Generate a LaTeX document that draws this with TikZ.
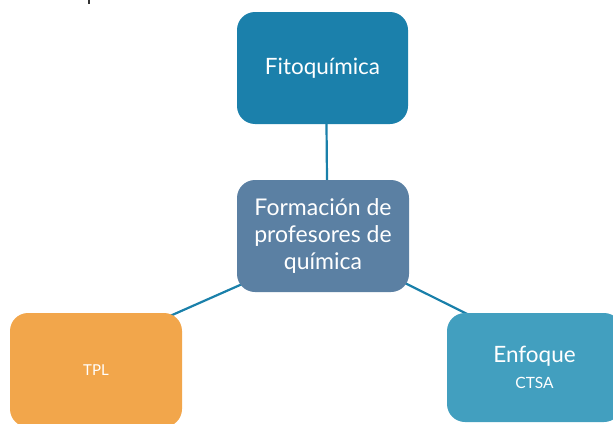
\documentclass[tikz,border=0pt]{standalone}
\usepackage{fontspec}
\setmainfont{Lato}
\usetikzlibrary{calc,backgrounds}
\definecolor{fitoc}{HTML}{1B80AB}
\definecolor{centc}{HTML}{5B80A3}
\definecolor{tplc}{HTML}{F2A64B}
\definecolor{enfc}{HTML}{429FBF}
\definecolor{linec}{HTML}{1A80AA}
\tikzset{
  box/.style={rounded corners=18pt, inner sep=0pt, text=white, align=center, draw=none},
  link/.style={draw=linec, line width=2.2pt},
}
\begin{document}
\begin{tikzpicture}[x=1pt,y=-1pt]
\useasboundingbox (0,0) rectangle (613,423);
\clip (0,0) rectangle (613,423);
\fill[black!80] (88,0) rectangle (90,4);
\node[box, fill=fitoc, minimum width=171pt, minimum height=112pt, font=\fontsize{22.5}{26}\selectfont] (fito) at (322.5,68) {Fitoquímica};
\node[box, fill=centc, minimum width=172pt, minimum height=112pt, font=\fontsize{23}{27}\selectfont] (cent) at (323,236) {Formación de\\ profesores de\\ química};
\node[box, fill=tplc, minimum width=172pt, minimum height=114pt, font=\fontsize{15}{17}\selectfont] (tpl) at (96,370) {TPL};
\node[box, fill=enfc, minimum width=175pt, minimum height=109pt, font=\fontsize{22.5}{26}\selectfont] (enf) at (534.5,367.5) {Enfoque\\[0pt]{\fontsize{15.5}{17}\selectfont CTSA}};
\begin{scope}[on background layer]
\path[link] ($(fito.south)+(4,0)$) -- ($(cent.north)+(4,0)$);
\path[link] ($(cent.south west)+(13,-11.5)$) -- ($(tpl.north east)+(-22,7.5)$);
\path[link] ($(cent.south east)+(-14,-14)$) -- ($(enf.north west)+(28,5)$);
\end{scope}
\end{tikzpicture}
\end{document}
